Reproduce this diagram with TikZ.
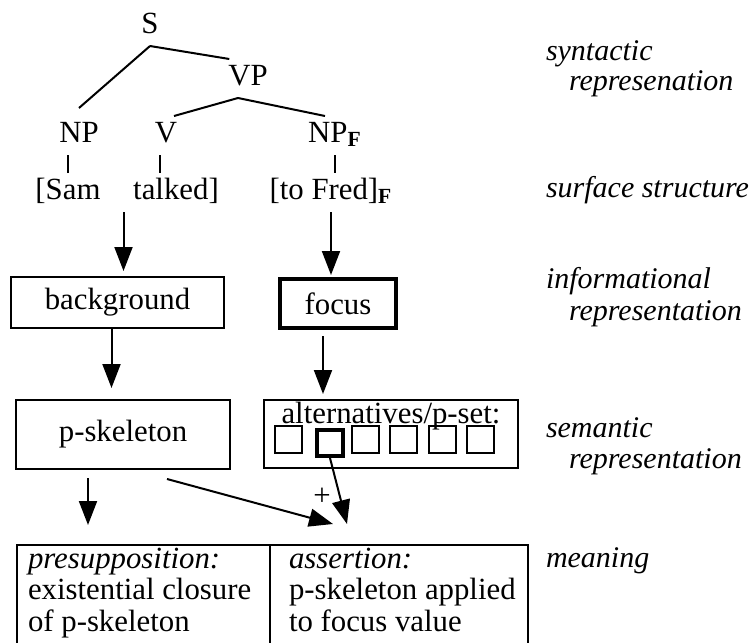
\documentclass[tikz,border=0pt]{standalone}
\usepackage{fontspec}
\setmainfont{Liberation Serif}
\usetikzlibrary{arrows.meta}

\begin{document}
\begin{tikzpicture}[x=0.5pt,y=-0.5pt,line width=1pt,
  every node/.style={font=\fontsize{15.4pt}{15.8pt}\selectfont},
  cat/.style={inner sep=3pt,text height=9.5pt,text depth=3pt,anchor=base},
  box/.style={draw,inner sep=0pt},
  sq/.style={draw,inner sep=0pt,minimum size=13.5pt},
  arr/.style={-{Triangle[length=12pt,width=9pt]}},
  tag/.style={anchor=base west,inner sep=0pt,font=\fontsize{15pt}{15.8pt}\selectfont\itshape}]
\useasboundingbox (0,0) rectangle (751,643);
\clip (0,0) rectangle (751,643);

% tree
\node[cat] (S) at (150,33) {S};
\node[cat] (VP) at (248,85) {VP};
\node[cat] (NP) at (79,142) {NP};
\node[cat] (V) at (166,142) {V};
\node[cat] (NPF) at (335,142) {NP\textsubscript{\textbf{F}}};
\node[cat] (Sam) at (68,199) {[Sam};
\node[cat] (talked) at (176,199) {talked]};
\node[cat] (Fred) at (331,199) {[to Fred]\textsubscript{\textbf{F}}};

\draw (S.south) -- ([yshift=4pt]NP.north);
\draw (S.south) -- ([xshift=4pt]VP.north west);
\draw ([xshift=-5pt]VP.south) -- ([xshift=4pt]V.north);
\draw ([xshift=-5pt]VP.south) -- ([xshift=-5pt]NPF.north);
\draw (Sam.north) -- (Sam.north |- NP.south);
\draw ([xshift=-3pt]V.south) -- ([xshift=-3pt]V.south |- talked.north);
\draw (NPF.south) -- (NPF.south |- Fred.north);

% information structure
\node[box,minimum width=106.5pt,minimum height=25.5pt] (bg) at (117.5,302.5) {background};
\node[box,line width=2pt,minimum width=58pt,minimum height=24.5pt] (focus) at (338,303.5) {focus};
\draw[arr,shorten >=2.5pt] ([xshift=3pt]bg.north |- Sam.south) -- ([xshift=3pt]bg.north);
\draw[arr,shorten >=1pt] (Fred.south) -- (Fred.south |- focus.north);

% semantic representation
\node[box,minimum width=107pt,minimum height=34.5pt] (pskel) at (123,434.5) {p-skeleton};
\node[box,minimum width=127pt,minimum height=34pt] (alt) at (391,434) {};
\node[anchor=base,inner sep=0pt] (alttext) at (391,423) {alternatives/p-set:};
\foreach \i/\x in {1/288,3/365,4/403.5,5/442.5,6/480}
  \node[sq] (sq\i) at (\x,439.5) {};
\node[sq,line width=2pt,minimum size=13pt] (sq2) at (330,443) {};
\draw[arr,shorten >=5.5pt] ([xshift=-3pt]bg.south) -- ([xshift=-3pt]bg.south |- pskel.north);
\draw[arr,shorten <=3pt,shorten >=2.5pt] ([xshift=-7.5pt]focus.south) -- ([xshift=-7.5pt]focus.south |- alt.north);

% meaning
\node[box,anchor=north west,minimum width=126.5pt,minimum height=58pt] (presbox) at (16,544) {};
\node[box,anchor=north west,minimum width=129pt,minimum height=58pt] (assbox) at (269,544) {};
\node[anchor=north west,align=left,inner sep=0pt] (pretext) at (27,547)
  {\textit{presupposition:}\\existential closure\\of p-skeleton};
\node[anchor=north west,align=left,inner sep=0pt] (asstext) at (288,547)
  {\textit{assertion:}\\p-skeleton applied\\to focus value};

\coordinate (meet) at (340,524);
\node[inner sep=0pt] (plus) at (322,497) {+};
\draw[arr] ([xshift=-17.5pt,yshift=-4pt]pskel.south) -- ([xshift=-17.5pt,yshift=9.5pt]pskel.south |- presbox.north);
\draw[arr] ([xshift=22pt,yshift=-4.5pt]pskel.south) -- ([xshift=-3.5pt]meet);
\draw[arr] (sq2.south) -- ([xshift=3.5pt]meet);

% levels
\node[tag] (syn) at (545,60) {syntactic};
\node[tag] (synb) at (568,90) {represenation};
\node[tag] (surf) at (545,197) {surface structure};
\node[tag] (inf) at (545,288) {informational};
\node[tag] (infb) at (568,320) {representation};
\node[tag] (sem) at (545,437) {semantic};
\node[tag] (semb) at (568,468) {representation};
\node[tag] (mean) at (545,567) {meaning};
\end{tikzpicture}
\end{document}
